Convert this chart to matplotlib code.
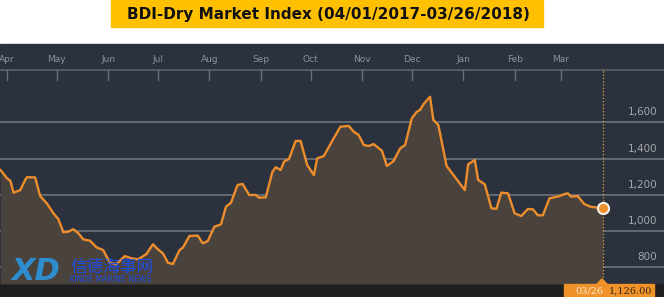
import pandas as pd
import matplotlib.pyplot as plt
import matplotlib.transforms as mtransforms
from matplotlib.patches import Rectangle, Polygon

# BDI values
dates = ['2017-03-28', '2017-03-29', '2017-04-01', '2017-04-03', '2017-04-05', '2017-04-09',
         '2017-04-12', '2017-04-13', '2017-04-18', '2017-04-21', '2017-04-25', '2017-04-29',
         '2017-05-02', '2017-05-05', '2017-05-08', '2017-05-11', '2017-05-14', '2017-05-17',
         '2017-05-21', '2017-05-25', '2017-05-29', '2017-06-02', '2017-06-06', '2017-06-11',
         '2017-06-15', '2017-06-19', '2017-06-24', '2017-06-28', '2017-07-01', '2017-07-04',
         '2017-07-07', '2017-07-10', '2017-07-14', '2017-07-16', '2017-07-20', '2017-07-25',
         '2017-07-28', '2017-07-31', '2017-08-04', '2017-08-08', '2017-08-11', '2017-08-14',
         '2017-08-18', '2017-08-21', '2017-08-25', '2017-08-29', '2017-08-31', '2017-09-04',
         '2017-09-08', '2017-09-10', '2017-09-13', '2017-09-15', '2017-09-18', '2017-09-22',
         '2017-09-25', '2017-09-29', '2017-10-03', '2017-10-05', '2017-10-09', '2017-10-14',
         '2017-10-19', '2017-10-24', '2017-10-27', '2017-10-30', '2017-11-02', '2017-11-05',
         '2017-11-08', '2017-11-13', '2017-11-16', '2017-11-20', '2017-11-24', '2017-11-27',
         '2017-12-01', '2017-12-04', '2017-12-06', '2017-12-08', '2017-12-12', '2017-12-14',
         '2017-12-17', '2017-12-22', '2018-01-02', '2018-01-04', '2018-01-08', '2018-01-10',
         '2018-01-14', '2018-01-18', '2018-01-21', '2018-01-24', '2018-01-28', '2018-02-01',
         '2018-02-05', '2018-02-09', '2018-02-12', '2018-02-15', '2018-02-18', '2018-02-22',
         '2018-02-27', '2018-03-03', '2018-03-05', '2018-03-07', '2018-03-11', '2018-03-15',
         '2018-03-19', '2018-03-26']
values = [1337, 1327, 1291, 1278, 1212, 1226,
          1282, 1297, 1296, 1193, 1153, 1098,
          1065, 993, 997, 1010, 988, 954,
          947, 910, 895, 825, 818, 862,
          850, 844, 873, 927, 899, 877,
          825, 818, 895, 908, 973, 975,
          932, 945, 1024, 1037, 1134, 1156,
          1254, 1260, 1199, 1199, 1184, 1186,
          1327, 1352, 1337, 1383, 1398, 1497,
          1497, 1364, 1309, 1401, 1414, 1497,
          1576, 1580, 1548, 1530, 1475, 1469,
          1480, 1443, 1359, 1386, 1456, 1475,
          1622, 1658, 1668, 1699, 1741, 1613,
          1585, 1359, 1226, 1368, 1392, 1282,
          1258, 1126, 1122, 1212, 1208, 1098,
          1083, 1122, 1120, 1087, 1087, 1181,
          1190, 1204, 1208, 1190, 1193, 1149,
          1134, 1126]
grid_values = [800, 1000, 1200, 1400, 1600]
month_starts = ['2017-04-01', '2017-05-01', '2017-06-01', '2017-07-01', '2017-08-01',
                '2017-09-01', '2017-10-01', '2017-11-01', '2017-12-01', '2018-01-01',
                '2018-02-01', '2018-03-01']
month_labels = ['Apr', 'May', 'Jun', 'Jul', 'Aug', 'Sep', 'Oct', 'Nov', 'Dec', 'Jan', 'Feb', 'Mar']
title = 'BDI-Dry Market Index (04/01/2017-03/26/2018)'

x = pd.to_datetime(dates)
mx = pd.to_datetime(month_starts)

W, H = 664, 297
fig = plt.figure(figsize=(W / 100, H / 100), dpi=100)
fig.patch.set_facecolor('white')

def fx(px):
    return px / W

def fy(py):
    return 1 - py / H

# dark panel and bottom bar
fig.patches.append(Rectangle((0, fy(284)), 1, fy(44) - fy(284), transform=fig.transFigure,
                             color='#2b323d', zorder=-2))
fig.patches.append(Rectangle((0, 0), 1, fy(284), transform=fig.transFigure,
                             color='#1e1f21', zorder=-2))

# title box
fig.patches.append(Rectangle((fx(111), fy(27)), fx(543) - fx(111), fy(0) - fy(27),
                             transform=fig.transFigure, color='#ffc000', zorder=-1))
fig.text(fx(328), fy(14), title, ha='center', va='center', fontsize=11,
         fontweight='bold', color='#111111', family='DejaVu Sans')

ax = fig.add_axes([0, fy(284), 1, fy(44) - fy(284)])
ax.set_zorder(1)
ax.set_facecolor('none')
x0 = pd.Timestamp('2017-03-28') - pd.Timedelta(hours=5)
x1 = x0 + pd.Timedelta(days=664 / 1.659)
ax.set_xlim(x0, x1)
ax.set_ylim(708, 2032)
for s in ax.spines.values():
    s.set_visible(False)
ax.set_xticks([])
ax.set_yticks([])

for g in grid_values:
    ax.axhline(g, color='#6e737a', lw=1.2, zorder=1)

trans = mtransforms.blended_transform_factory(ax.transData, ax.transAxes)
trans_y = mtransforms.blended_transform_factory(ax.transAxes, ax.transData)

# month axis on top
ax.axhline(1888, color='#5a616b', lw=1.2, zorder=1)
for m, lab in zip(mx, month_labels):
    ax.plot([m, m], [0.85, 0.8917], transform=trans, color='#6a7079', lw=1)
    ax.text(m, 0.9375, lab, transform=trans, ha='center', va='center',
            fontsize=6.5, color='#8d939b')

for g in grid_values:
    ax.text(0.99, g + 55, f'{g:,}', transform=trans_y, ha='right', va='center',
            fontsize=7.5, color='#a3a7ad')

ax.fill_between(x, values, 708, color='#4a423c', zorder=2, lw=0)
ax.plot(x, values, color='#ee8d2c', lw=1.7, zorder=3, solid_joinstyle='round')

# marker on the last day
ax.plot([x[-1], x[-1]], [708, 1888], color='#e8a93a', lw=0.9, ls=':', zorder=4)
ax.plot(x[-1], values[-1], 'o', ms=8, mfc='#ef8f2b', mec='#f4efe8', mew=1.5, zorder=5)

# value label under the chart
fig.patches.append(Rectangle((fx(564), 0), fx(654) - fx(564), fy(284),
                             transform=fig.transFigure, color='#f0922a', zorder=2))
fig.patches.append(Polygon([(fx(597), fy(284)), (fx(607), fy(284)), (fx(602), fy(279))],
                           closed=True, transform=fig.transFigure, color='#f0922a', zorder=2))
fig.text(fx(589), fy(291), x[-1].strftime('%m/%d'), ha='center', va='center',
         fontsize=7, color='#fde9d2', family='DejaVu Serif', zorder=3)
fig.text(fx(630), fy(291), f'{values[-1]:,.2f}', ha='center', va='center',
         fontsize=7, color='#3a2a1a', family='DejaVu Serif', zorder=3)

# watermark
fig.text(fx(12), fy(271), 'XD', ha='left', va='center', fontsize=22, fontweight='bold',
         fontstyle='italic', color='#2a96e0', alpha=0.9, zorder=6)
fig.text(fx(70), fy(267), '信德海事网', ha='left', va='center', fontsize=12,
         color='#1d4fe6', family=['Noto Sans CJK SC', 'DejaVu Sans'], zorder=6)
fig.text(fx(69), fy(280), 'XINDE MARINE NEWS', ha='left', va='center', fontsize=5.6,
         color='#1d4fe6', zorder=6)

fig.savefig('out.png', dpi=100, facecolor=fig.get_facecolor())
